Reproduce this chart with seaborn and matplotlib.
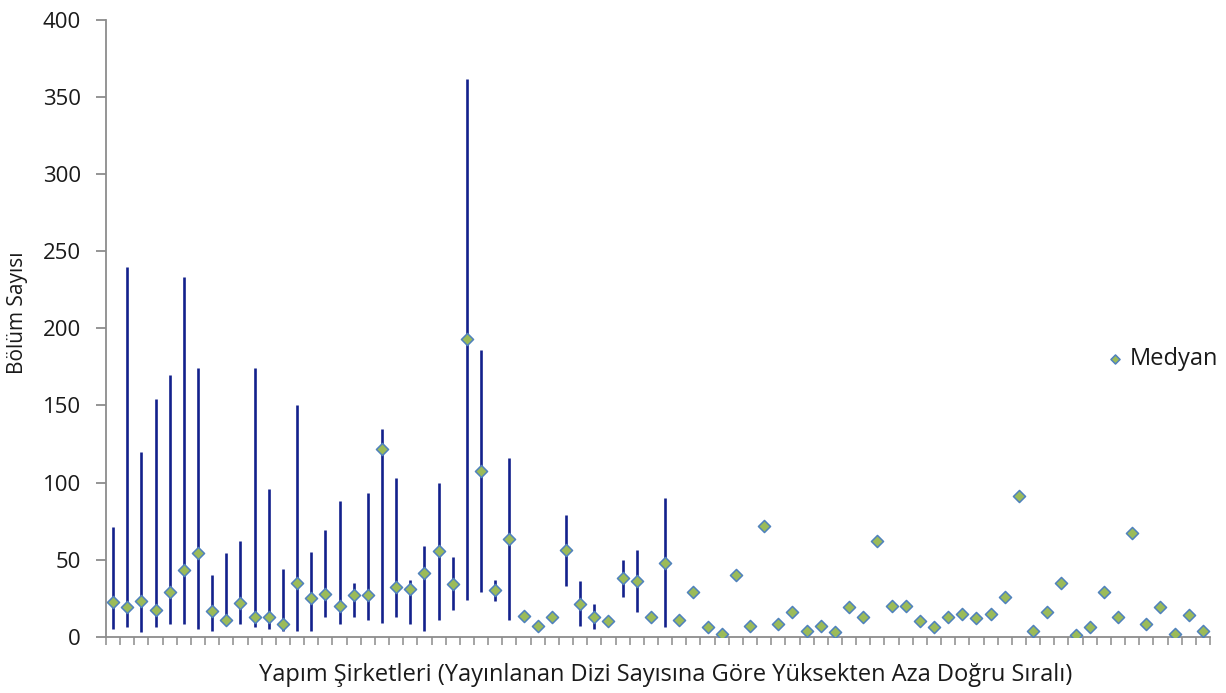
import numpy as np
import pandas as pd
import matplotlib
matplotlib.use("Agg")
import matplotlib.pyplot as plt
import seaborn as sns

# Production companies ranked by number of aired series (high to low)
sirket_sirasi = list(range(1, 79))

# Median episode count per company
medyan = [22.5, 19, 23, 17, 29, 43, 54, 16.5, 11, 22,
          13, 13, 8.5, 35, 25, 28, 20, 27, 27, 122,
          32, 31, 41, 55.5, 34.5, 193, 107.5, 30, 63.5, 13.5,
          7, 13, 56, 21.5, 13, 10.5, 38, 36, 13, 48,
          11, 29, 6, 2, 40, 7, 72, 8, 16, 4,
          7, 3, 19, 13, 62, 20, 20, 10, 6, 13,
          15, 12, 15, 26, 91, 4, 16, 35, 1, 6,
          29, 13, 67, 8, 19, 2, 14, 4]

# Minimum and maximum episode count (NaN where a company has a single series)
nan = np.nan
en_az = [5, 6, 3, 6, 8, 8, 5, 4, 8, 8,
         6, 5, 4, 4, 4, 13, 8, 13, 11, 9,
         13, 8, 4, 11, 17, 24, 29, 23, 11, nan,
         nan, nan, 33, 7, 5, nan, 26, 16, nan, 6] + [nan] * 38
en_cok = [71, 240, 120, 154, 170, 233, 174, 40, 54, 62,
          174, 96, 44, 150, 55, 69, 88, 35, 93, 135,
          103, 37, 59, 100, 52, 362, 186, 37, 116, nan,
          nan, nan, 79, 36, 21, nan, 50, 56, nan, 90] + [nan] * 38

df = pd.DataFrame({"sira": sirket_sirasi, "medyan": medyan,
                   "min": en_az, "max": en_cok})
df["x"] = np.arange(len(df))

sns.set_style("white")
plt.rcParams["font.family"] = ["Open Sans", "DejaVu Sans"]

fig = plt.figure(figsize=(12.26, 6.93), dpi=100)
ax = fig.add_axes([106 / 1226, 1 - 636.7 / 693, 1104 / 1226, 616.7 / 693])

# Min-max range lines
rng = df.dropna(subset=["min", "max"])
ax.vlines(rng["x"], rng["min"], rng["max"], color="#13218C", linewidth=1.9, zorder=2)

# Median markers
sns.scatterplot(data=df, x="x", y="medyan", ax=ax, marker="D", s=38,
                color="#9BBB59", edgecolor="#4F81BD", linewidth=1.1,
                label="Medyan", zorder=3)

ax.set_xlim(-0.5, len(df) - 0.5)
ax.set_ylim(0, 400)
ax.set_yticks(np.arange(0, 401, 50))
ax.set_xticks(np.arange(-0.5, len(df), 1.0))
ax.set_xticklabels([])

spine_c = "#8C8C8C"
for side in ["top", "right"]:
    ax.spines[side].set_visible(False)
for side in ["left", "bottom"]:
    ax.spines[side].set_color(spine_c)
    ax.spines[side].set_linewidth(1.3)

ax.tick_params(axis="y", direction="out", length=7, width=1.3, color=spine_c,
               pad=11, labelsize=16, labelcolor="#1a1a1a", left=True)
ax.tick_params(axis="x", direction="out", length=6, width=1.1, color=spine_c,
               bottom=True)

ax.set_xlabel("Yapım Şirketleri (Yayınlanan Dizi Sayısına Göre Yüksekten Aza Doğru Sıralı)",
              fontsize=17, color="#1a1a1a")
ax.set_ylabel("Bölüm Sayısı", fontsize=15, color="#1a1a1a")
ax.xaxis.set_label_coords(0.507, -0.042)
ax.yaxis.set_label_coords(-0.071, 0.525)

leg = ax.legend(loc="center left", bbox_to_anchor=(0.897, 0.45), frameon=False,
                fontsize=17, handletextpad=0.2, handlelength=0.8,
                markerscale=0.75, borderaxespad=0)
for t in leg.get_texts():
    t.set_color("#1a1a1a")

fig.savefig("out.png", dpi=100)
